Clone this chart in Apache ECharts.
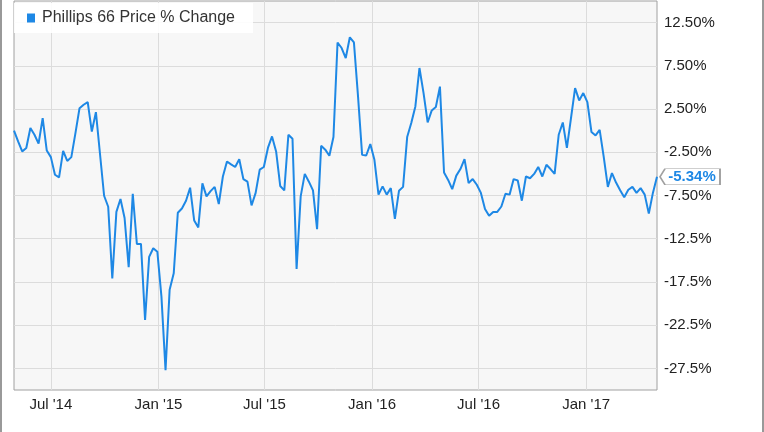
<!DOCTYPE html>
<html>
<head>
<meta charset="utf-8">
<script src="https://cdn.jsdelivr.net/npm/echarts@6/dist/echarts.min.js"></script>
<style>html,body{margin:0;padding:0;background:#fff}#c{width:764px;height:432px}</style>
</head>
<body>
<div id="c"></div>
<script>
// ---- data ----
const seriesName = 'Phillips 66 Price % Change';
const startDate = '2014-04-29';   // first weekly observation
const pctChange = [
  0, -1.25, -2.4, -2.0, 0.3, -0.47, -1.5, 1.46, -2.3, -3.06,
  -5.1, -5.4, -2.33, -3.5, -3.06, -0.28, 2.6, 3.0, 3.3, -0.1,
  2.15, -2.7, -7.53, -8.8, -17.1, -9.4, -7.9, -10.1, -15.8, -7.3,
  -13.1, -13.1, -21.9, -14.6, -13.6, -14.0, -19.2, -27.7, -18.4, -16.5,
  -9.5, -9.0, -8.1, -6.6, -10.4, -11.2, -6.1, -7.6, -7.0, -6.5,
  -8.5, -5.3, -3.56, -3.9, -4.2, -3.3, -5.6, -5.9, -8.65, -7.2,
  -4.5, -4.2, -2.0, -0.67, -2.4, -6.4, -6.9, -0.47, -0.94, -16.0,
  -7.6, -5.0, -5.9, -6.9, -11.4, -1.75, -2.2, -2.9, -0.74, 10.2,
  9.56, 8.4, 10.8, 10.2, 3.96, -2.8, -2.87, -1.55, -3.37, -7.4,
  -6.45, -7.4, -6.65, -10.2, -6.96, -6.5, -0.74, 0.88, 2.8, 7.25,
  4.35, 0.95, 2.34, 2.73, 5.1, -4.84, -5.7, -6.76, -5.2, -4.44,
  -3.3, -6.06, -5.6, -6.26, -7.2, -9.07, -9.85, -9.4, -9.4, -8.77,
  -7.3, -7.4, -5.6, -5.76, -8.1, -5.3, -5.5, -5.0, -4.2, -5.3,
  -3.95, -4.44, -4.99, -0.47, 0.95, -2.0, 1.46, 4.93, 3.5, 4.35,
  3.3, -0.16, -0.55, 0.1, -3.06, -6.5, -4.9, -6.0, -6.9, -7.7,
  -6.84, -6.5, -7.2, -6.65, -7.4, -9.6, -7.2, -5.34
];
const xTickDates = ['2014-07-01', '2015-01-01', '2015-07-01', '2016-01-01', '2016-07-01', '2017-01-01'];
const xTickLabels = ["Jul '14", "Jan '15", "Jul '15", "Jan '16", "Jul '16", "Jan '17"];
const yTickValues = [12.5, 7.5, 2.5, -2.5, -7.5, -12.5, -17.5, -22.5, -27.5];
const yTickLabels = ['12.50%', '7.50%', '2.50%', '-2.50%', '-7.50%', '-12.5%', '-17.5%', '-22.5%', '-27.5%'];

// ---- helpers ----
function ts(s) { const p = s.split('-').map(Number); return new Date(p[0], p[1] - 1, p[2]).getTime(); }
const sp = startDate.split('-').map(Number);
const dates = pctChange.map((_, i) => new Date(sp[0], sp[1] - 1, sp[2] + 7 * i).getTime());
const seriesData = pctChange.map((v, i) => [dates[i], v]);
const xTicks = xTickDates.map(ts);
const lastIdx = pctChange.length - 1;

const BLUE = '#1e88e5';
const FONT = '"Liberation Sans", Arial, sans-serif';

const chart = echarts.init(document.getElementById('c'), null, { renderer: 'canvas' });
chart.setOption({
  animation: false,
  backgroundColor: '#fff',
  grid: {
    left: 14, right: 107, top: 1, bottom: 42,
    show: true, backgroundColor: '#f7f7f7', borderColor: '#a0a0a0', borderWidth: 1,
    outerBoundsMode: 'none'
  },
  legend: {
    show: true,
    left: 14, top: 3,
    padding: [7, 18, 7, 13],
    backgroundColor: 'rgba(255,255,255,0.9)',
    icon: 'rect', itemWidth: 8, itemHeight: 9,
    textStyle: { fontSize: 16, color: '#333', fontFamily: FONT, padding: [0, 0, 0, 2] },
    data: [seriesName]
  },
  xAxis: {
    type: 'value',
    min: dates[0], max: dates[lastIdx],
    axisLine: { show: false },
    axisTick: { show: false, customValues: xTicks },
    splitLine: { show: true, lineStyle: { color: '#dcdcdc', width: 1 } },
    axisLabel: {
      customValues: xTicks,
      margin: 7,
      fontSize: 15, color: '#222', fontFamily: FONT,
      formatter: function (v) {
        for (let i = 0; i < xTicks.length; i++) if (Math.abs(xTicks[i] - v) < 86400000) return xTickLabels[i];
        return '';
      }
    }
  },
  yAxis: {
    type: 'value',
    position: 'right',
    min: -30, max: 15,
    axisLine: { show: false },
    axisTick: { show: false, customValues: yTickValues },
    splitLine: { show: true, lineStyle: { color: '#dcdcdc', width: 1 } },
    axisLabel: {
      customValues: yTickValues,
      margin: 7,
      fontSize: 15, color: '#222', fontFamily: FONT,
      formatter: function (v) {
        for (let i = 0; i < yTickValues.length; i++) if (Math.abs(yTickValues[i] - v) < 1e-6) return yTickLabels[i];
        return '';
      }
    }
  },
  graphic: [
    { type: 'line', shape: { x1: 1, y1: 0, x2: 1, y2: 432 }, style: { stroke: '#777', lineWidth: 1.5 } },
    { type: 'line', shape: { x1: 763, y1: 0, x2: 763, y2: 432 }, style: { stroke: '#777', lineWidth: 1.5 } }
  ],
  series: [{
    name: seriesName,
    type: 'line',
    data: seriesData,
    showSymbol: false,
    symbol: 'none',
    color: BLUE,
    lineStyle: { color: BLUE, width: 2 },
    markPoint: {
      symbol: 'path://M0,8 L5,0 L60,0 L60,16 L5,16 Z',
      symbolSize: [60, 16],
      symbolOffset: [33, 0],
      itemStyle: { color: '#fff', borderColor: '#a0a0a0', borderWidth: 1 },
      label: {
        show: true, position: 'inside', offset: [2, 0],
        color: BLUE, fontWeight: 'bold', fontSize: 15, fontFamily: FONT,
        formatter: function (p) { return p.value.toFixed(2) + '%'; }
      },
      data: [{ coord: [dates[lastIdx], pctChange[lastIdx]], value: pctChange[lastIdx] }]
    }
  }]
});
</script>
</body>
</html>
